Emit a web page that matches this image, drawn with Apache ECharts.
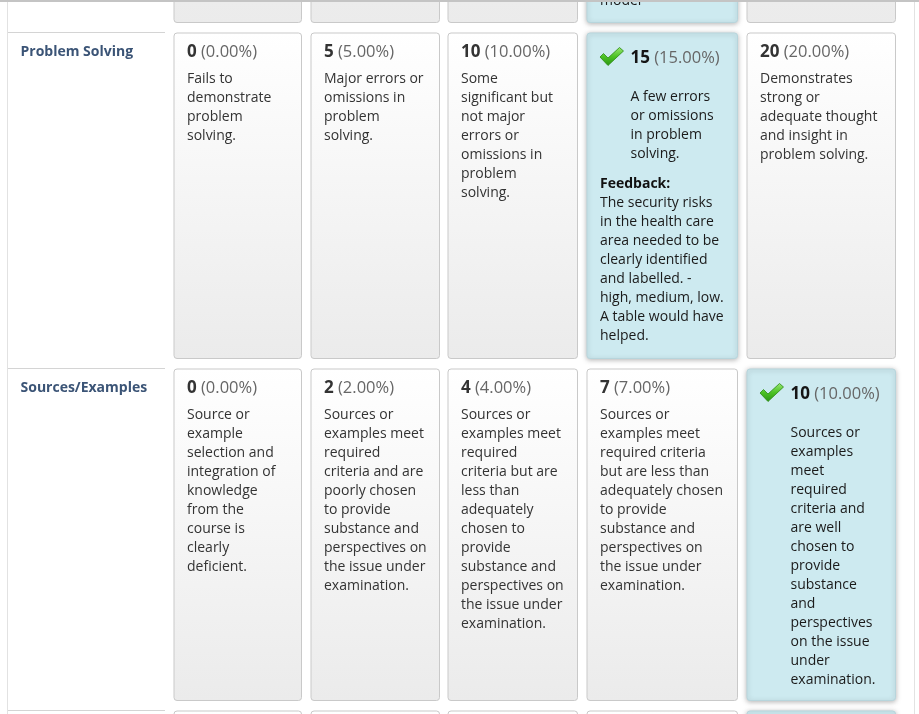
<!DOCTYPE html>
<html>
<head>
<meta charset="utf-8">
<script src="https://cdn.jsdelivr.net/npm/echarts@6/dist/echarts.min.js"></script>
<style>
  html, body { margin: 0; padding: 0; background: #fff; }
  #main { width: 919px; height: 714px; }
</style>
</head>
<body>
<div id="main"></div>
<script>
// rubric rows: a cut-off row above, two full rows, a cut-off row below
const criteria = ['', 'Problem Solving', 'Sources/Examples', ''];

const scores = [
  [null, null, null, null, null],
  [0, 5, 10, 15, 20],
  [0, 2, 4, 7, 10],
  [null, null, null, null, null]
];

const percentLabels = [
  [],
  ['0.00%', '5.00%', '10.00%', '15.00%', '20.00%'],
  ['0.00%', '2.00%', '4.00%', '7.00%', '10.00%'],
  []
];

const descriptions = [
  [[], [], [], [], []],
  [
    ['Fails to', 'demonstrate', 'problem', 'solving.'],
    ['Major errors or', 'omissions in', 'problem', 'solving.'],
    ['Some', 'significant but', 'not major', 'errors or', 'omissions in', 'problem', 'solving.'],
    ['A few errors', 'or omissions', 'in problem', 'solving.'],
    ['Demonstrates', 'strong or', 'adequate thought', 'and insight in', 'problem solving.']
  ],
  [
    ['Source or', 'example', 'selection and', 'integration of', 'knowledge', 'from the', 'course is', 'clearly', 'deficient.'],
    ['Sources or', 'examples meet', 'required', 'criteria and are', 'poorly chosen', 'to provide', 'substance and', 'perspectives on', 'the issue under', 'examination.'],
    ['Sources or', 'examples meet', 'required', 'criteria but are', 'less than', 'adequately', 'chosen to', 'provide', 'substance and', 'perspectives on', 'the issue under', 'examination.'],
    ['Sources or', 'examples meet', 'required criteria', 'but are less than', 'adequately chosen', 'to provide', 'substance and', 'perspectives on', 'the issue under', 'examination.'],
    ['Sources or', 'examples', 'meet', 'required', 'criteria and', 'are well', 'chosen to', 'provide', 'substance', 'and', 'perspectives', 'on the issue', 'under', 'examination.']
  ],
  [[], [], [], [], []]
];

const selectedLevel = [3, 3, 4, 4];

const feedback = [
  ['model'],
  ['The security risks', 'in the health care', 'area needed to be', 'clearly identified',
   'and labelled. -', 'high, medium, low.', 'A table would have', 'helped.'],
  [],
  []
];

// page layout (axis units = pixels)
const COLS = [[174, 301.5], [311, 439.5], [448, 577.5], [587, 737.5], [747, 895.5]];
const ROWS = [[-400, 22.5], [33, 358.5], [369, 700.5], [711, 1100]];
const FONT = '"Open Sans", "Noto Sans", sans-serif';
const LINE = 19;

const cellData = [];
criteria.forEach((_, r) => COLS.forEach((_, c) => cellData.push([r, c])));

function checkIcon(x, y) {
  const pts = [[0, 9.5], [3.5, 6], [8, 10.5], [19.5, 0], [23.5, 3.5], [8, 18]];
  return {
    type: 'polygon',
    shape: { points: pts.map(p => [x + p[0], y + p[1]]) },
    style: {
      fill: new echarts.graphic.LinearGradient(0, 0, 0, 1, [
        { offset: 0, color: '#9be873' },
        { offset: 0.5, color: '#4cc225' },
        { offset: 1, color: '#2a9312' }
      ]),
      stroke: '#2a8a12',
      lineWidth: 0.8
    }
  };
}

function renderCell(params, api) {
  const r = api.value(0);
  const c = api.value(1);
  const p0 = api.coord([COLS[c][0], ROWS[r][0]]);
  const p1 = api.coord([COLS[c][1], ROWS[r][1]]);
  const x = p0[0], y = p0[1], w = p1[0] - p0[0], h = p1[1] - p0[1];
  const sel = selectedLevel[r] === c;

  const children = [{
    type: 'rect',
    shape: { x: x, y: y, width: w, height: h, r: 3 },
    style: sel ? {
      fill: '#cdeaf0',
      stroke: '#b7d5dc',
      lineWidth: 1,
      shadowBlur: 5,
      shadowColor: 'rgba(0,0,0,0.28)',
      shadowOffsetY: 1
    } : {
      fill: new echarts.graphic.LinearGradient(0, 0, 0, 1, [
        { offset: 0, color: '#ffffff' },
        { offset: 1, color: '#ebebeb' }
      ]),
      stroke: '#c9c9c9',
      lineWidth: 1
    }
  }];

  const tx = sel ? x + 43.5 : x + 13;
  if (scores[r][c] != null) {
    if (sel) children.push(checkIcon(x + 13, y + 14.5));
    children.push({
      type: 'text',
      style: {
        x: tx,
        y: sel ? y + 25 : y + 19,
        text: '{s|' + scores[r][c] + '}{p| (' + percentLabels[r][c] + ')}',
        verticalAlign: 'middle',
        rich: {
          s: { fontFamily: FONT, fontSize: 17, fontWeight: 'bold', fill: sel ? '#151515' : '#333' },
          p: { fontFamily: FONT, fontSize: 16.5, fill: '#666' }
        }
      }
    });
  }

  const desc = descriptions[r][c];
  let ty = (sel ? y + 64 : y + 46) - LINE / 2;
  if (desc.length) {
    children.push({
      type: 'text',
      style: {
        x: tx, y: ty,
        text: desc.join('\n'),
        fontFamily: FONT, fontSize: 14, lineHeight: LINE,
        fill: sel ? '#1a1a1a' : '#333',
        verticalAlign: 'top'
      }
    });
    ty += desc.length * LINE;
  }

  const fb = sel ? feedback[r] : [];
  if (fb.length) {
    if (ROWS[r][0] < 0) {
      // row cut off at the top: only the end of the feedback shows
      children.push({
        type: 'text',
        style: {
          x: x + 13, y: y + h - 21.5 + LINE / 2,
          text: fb.join('\n'),
          fontFamily: FONT, fontSize: 14, lineHeight: LINE,
          fill: '#1a1a1a', verticalAlign: 'bottom'
        }
      });
    } else {
      ty += 11;
      children.push({
        type: 'text',
        style: {
          x: x + 13, y: ty,
          text: '{b|Feedback:}\n' + fb.map(t => '{n|' + t + '}').join('\n'),
          verticalAlign: 'top',
          rich: {
            b: { fontFamily: FONT, fontSize: 14, fontWeight: 'bold', lineHeight: LINE, fill: '#111' },
            n: { fontFamily: FONT, fontSize: 14, lineHeight: LINE, fill: '#1a1a1a' }
          }
        }
      });
    }
  }
  return { type: 'group', children: children };
}

function renderHeader(params, api) {
  const r = api.value(0);
  const top = api.coord([0, ROWS[r][0]]);
  const a = api.coord([7, ROWS[r][0] - 0.5]);
  const b = api.coord([165, ROWS[r][0] - 0.5]);
  const children = [];
  if (ROWS[r][0] > 0) {
    children.push({
      type: 'line',
      shape: { x1: a[0], y1: a[1], x2: b[0], y2: b[1] },
      style: { stroke: '#d4d4d4', lineWidth: 1 }
    });
  }
  if (criteria[r]) {
    children.push({
      type: 'text',
      style: {
        x: 20.5, y: top[1] + 19,
        text: criteria[r],
        fontFamily: FONT, fontSize: 14, fontWeight: 'bold',
        fill: '#3b5476', verticalAlign: 'middle'
      }
    });
  }
  return { type: 'group', children: children };
}

function renderFrame(params, api) {
  const tl = api.coord([0, 1]);
  const tr = api.coord([919, 1]);
  const l0 = api.coord([7.5, 0]);
  const l1 = api.coord([7.5, 714]);
  const r0 = api.coord([914.5, 0]);
  const r1 = api.coord([914.5, 714]);
  return {
    type: 'group',
    children: [
      { type: 'line', shape: { x1: l0[0], y1: l0[1], x2: l1[0], y2: l1[1] }, style: { stroke: '#e2e2e2', lineWidth: 1 } },
      { type: 'line', shape: { x1: r0[0], y1: r0[1], x2: r1[0], y2: r1[1] }, style: { stroke: '#e2e2e2', lineWidth: 1 } },
      { type: 'line', shape: { x1: tl[0], y1: tl[1], x2: tr[0], y2: tr[1] }, style: { stroke: '#c4c4c4', lineWidth: 2 } }
    ]
  };
}

const chart = echarts.init(document.getElementById('main'), null, { renderer: 'canvas' });

chart.setOption({
  animation: false,
  backgroundColor: '#fff',
  grid: { left: 0, right: 0, top: 0, bottom: 0 },
  xAxis: { type: 'value', min: 0, max: 919, show: false },
  yAxis: { type: 'value', min: 0, max: 714, inverse: true, show: false },
  series: [
    {
      type: 'custom',
      renderItem: renderHeader,
      data: criteria.map((_, r) => [r]),
      clip: false,
      silent: true
    },
    {
      type: 'custom',
      renderItem: renderCell,
      data: cellData,
      clip: false,
      silent: true
    },
    {
      type: 'custom',
      renderItem: renderFrame,
      data: [[0]],
      clip: false,
      silent: true,
      z: 5
    }
  ]
});
</script>
</body>
</html>
